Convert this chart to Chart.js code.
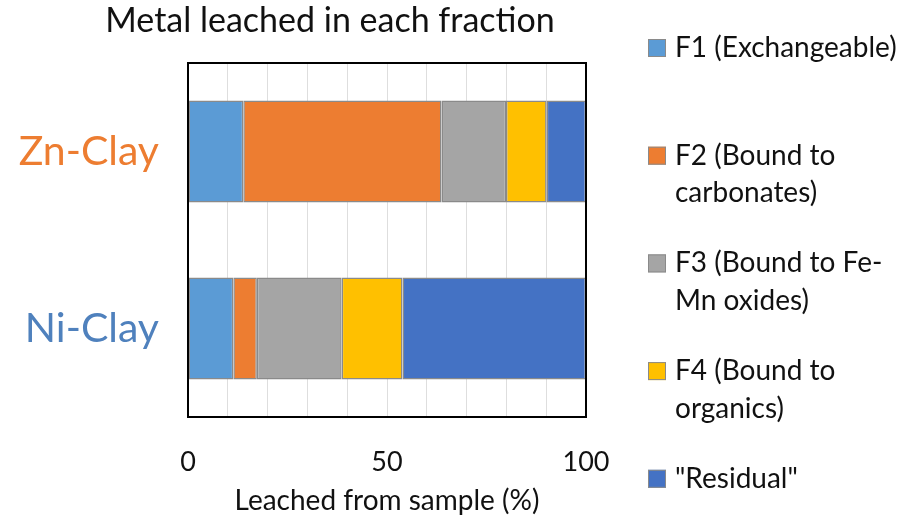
<!DOCTYPE html>
<html>
<head>
<meta charset="utf-8">
<script src="https://cdn.jsdelivr.net/npm/chart.js@4/dist/chart.umd.min.js"></script>
<style>
  html, body { margin: 0; padding: 0; background: #ffffff; }
  #wrap { width: 924px; height: 518px; }
</style>
</head>
<body>
<div id="wrap"><canvas id="c" width="924" height="518"></canvas></div>
<script>
// Sequential extraction results: share of metal leached in each fraction (%)
const samples = ['Zn-Clay', 'Ni-Clay'];
const sampleColors = ['#ED7D31', '#4F81BD'];

const fractionLabels = [
  ['F1 (Exchangeable)'],
  ['F2 (Bound to', 'carbonates)'],
  ['F3 (Bound to Fe-', 'Mn oxides)'],
  ['F4 (Bound to', 'organics)'],
  ['"Residual"']
];
const fractionColors = ['#5B9BD5', '#ED7D31', '#A5A5A5', '#FFC000', '#4472C4'];

const f1Exchangeable = [13.9, 11.4];
const f2Carbonates   = [49.8, 5.9];
const f3FeMnOxides   = [16.2, 21.3];
const f4Organics     = [10.2, 15.3];
const residual       = [9.9, 46.1];

const xTickLabels = [0, 50, 100];

const seriesValues = [f1Exchangeable, f2Carbonates, f3FeMnOxides, f4Organics, residual];

const FONT = 'Lato, "Open Sans", "DejaVu Sans", sans-serif';

const datasets = seriesValues.map((vals, i) => ({
  label: fractionLabels[i].join(' '),
  data: vals,
  backgroundColor: fractionColors[i],
  borderColor: '#8a8a8a',
  borderWidth: 1.5,
  borderSkipped: false,
  categoryPercentage: 1.0,
  barPercentage: 0.576
}));

// Chart title, plot frame and the multi-line legend on the right
const decorations = {
  id: 'decorations',
  afterDraw(chart) {
    const ctx = chart.ctx;
    const area = chart.chartArea;
    ctx.save();

    // frame around the plot area
    ctx.strokeStyle = '#000000';
    ctx.lineWidth = 2;
    ctx.strokeRect(area.left, area.top, area.right - area.left, area.bottom - area.top);

    // title
    ctx.fillStyle = '#111111';
    ctx.font = '34px ' + FONT;
    ctx.textAlign = 'center';
    ctx.textBaseline = 'alphabetic';
    ctx.fillText('Metal leached in each fraction', 330, 32);

    // legend
    ctx.textAlign = 'left';
    ctx.font = '28px ' + FONT;
    const firstBaseline = 57;
    const step = 107.7;
    const lineGap = 37.5;
    fractionLabels.forEach((lines, i) => {
      const base = firstBaseline + i * step;
      ctx.fillStyle = fractionColors[i];
      ctx.fillRect(648, base - 18, 18, 18);
      ctx.strokeStyle = '#8a8a8a';
      ctx.lineWidth = 1;
      ctx.strokeRect(648.5, base - 17.5, 17, 17);
      ctx.fillStyle = '#111111';
      lines.forEach((t, j) => ctx.fillText(t, 675, base + j * lineGap));
    });
    ctx.restore();
  }
};

new Chart(document.getElementById('c'), {
  type: 'bar',
  data: { labels: samples, datasets },
  options: {
    indexAxis: 'y',
    responsive: false,
    animation: false,
    layout: { padding: { top: 63, right: 338, bottom: 0, left: 0 } },
    plugins: {
      legend: { display: false },
      title: { display: false },
      tooltip: { enabled: false }
    },
    scales: {
      x: {
        stacked: true,
        min: 0,
        max: 100,
        afterFit(scale) { scale.height = 101; },
        grid: { color: '#dedede', lineWidth: 1, drawTicks: false },
        border: { display: false },
        ticks: {
          stepSize: 10,
          autoSkip: false,
          maxRotation: 0,
          padding: 29,
          color: '#111111',
          font: { family: FONT, size: 27 },
          callback: (v) => xTickLabels.includes(v) ? String(v) : ''
        },
        title: {
          display: true,
          text: 'Leached from sample (%)',
          color: '#111111',
          font: { family: FONT, size: 28 },
          padding: { top: 0, bottom: 0 }
        }
      },
      y: {
        stacked: true,
        afterFit(scale) { scale.width = 188; },
        grid: { display: false, drawTicks: false },
        border: { display: false },
        ticks: {
          padding: 29,
          color: (ctx) => sampleColors[ctx.index],
          font: { family: FONT, size: 41 }
        }
      }
    }
  },
  plugins: [decorations]
});
</script>
</body>
</html>
